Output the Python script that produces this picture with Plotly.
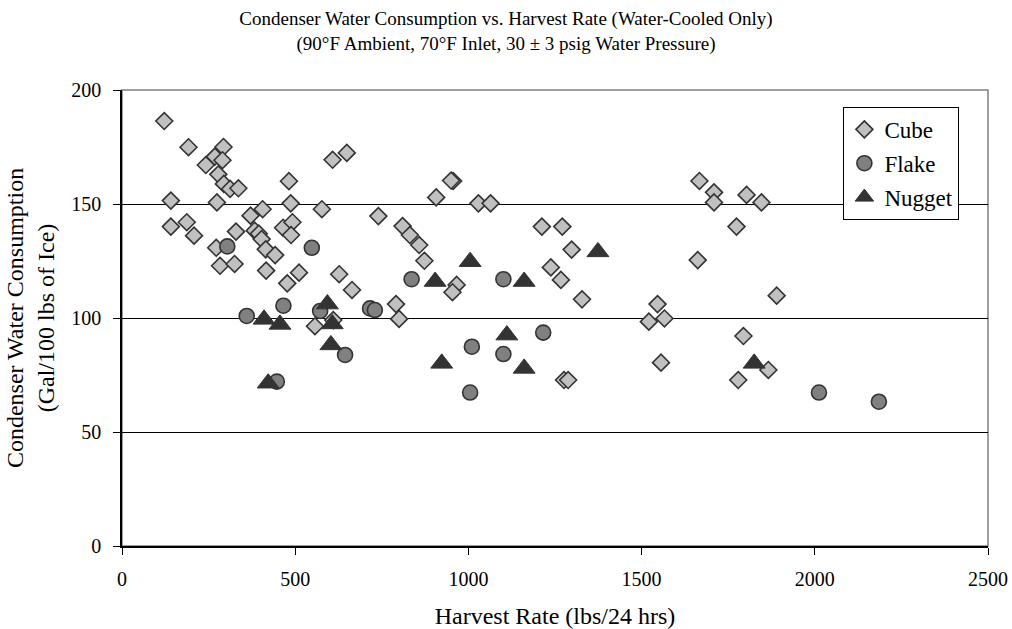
import plotly.graph_objects as go

# Harvest rate (lbs/24 hrs) and condenser water use (gal/100 lbs ice)
cube_x = [122, 192, 293, 268, 290, 242, 278, 294, 312, 336, 482, 608, 649,
          141, 274, 487, 577, 406, 371, 141, 187, 208, 329, 383, 395, 403,
          465, 492, 488, 415, 442, 272, 283, 325, 416, 511, 477, 627, 664,
          557, 610,
          956, 950, 907, 1029, 1064, 740, 810, 831, 858, 873, 1212, 1271, 1298,
          1238, 1267, 1328, 966, 954, 791, 800, 1276, 1288,
          1667, 1709, 1709, 1803, 1846, 1774, 1662, 1890, 1546, 1521, 1566,
          1794, 1556, 1866, 1779]
cube_y = [186.4, 174.9, 175.0, 170.8, 169.2, 167.1, 163.0, 158.8, 156.6, 156.9, 160.0, 169.4, 172.4,
          151.5, 150.7, 150.3, 147.7, 147.7, 144.9, 140.1, 142.0, 136.1, 137.9, 138.3, 137.0, 134.6,
          139.6, 142.0, 136.4, 130.1, 127.6, 130.8, 122.9, 123.7, 120.8, 119.9, 115.2, 119.2, 112.3,
          96.4, 99.1,
          160.1, 160.3, 152.9, 150.3, 150.3, 144.7, 140.3, 136.4, 132.0, 125.1, 140.1, 140.1, 130.0,
          122.2, 116.7, 108.2, 114.5, 111.3, 106.1, 99.6, 72.8, 72.8,
          160.1, 155.1, 150.7, 154.0, 150.7, 140.1, 125.4, 109.8, 106.1, 98.4, 99.8,
          92.1, 80.4, 77.2, 72.8]

flake_x = [304, 548, 360, 466, 572, 716, 644, 447,
           836, 1101, 730, 1216, 1010, 1101, 1005, 2012, 2185]
flake_y = [131.4, 130.8, 100.9, 105.4, 103.1, 104.2, 83.8, 72.1,
           117.0, 117.0, 103.5, 93.6, 87.4, 84.2, 67.3, 67.3, 63.3]

nugget_x = [410, 456, 593, 607, 603, 422, 1005, 904, 1161, 1374, 1111, 923, 1161, 1825]
nugget_y = [99.4, 97.2, 106.1, 97.4, 88.2, 71.4, 124.7, 116.0, 116.0, 129.0, 92.5, 80.1, 77.9, 80.1]

x_ticks = [0, 500, 1000, 1500, 2000, 2500]
y_ticks = [0, 50, 100, 150, 200]

serif = "Liberation Serif, Times New Roman, serif"
edge = "#333333"

fig = go.Figure()
fig.add_trace(go.Scatter(x=cube_x, y=cube_y, mode="markers", name="Cube", legendgroup="cube",
                         marker=dict(symbol="diamond", size=13, color="#c0c0c0",
                                     line=dict(color=edge, width=1.6))))
fig.add_trace(go.Scatter(x=flake_x, y=flake_y, mode="markers", name="Flake", legendgroup="flake",
                         marker=dict(symbol="circle", size=15, color="#808080",
                                     line=dict(color=edge, width=1.6))))
fig.add_trace(go.Scatter(x=nugget_x, y=nugget_y, mode="markers", name="Nugget", legendgroup="nugget",
                         marker=dict(symbol="triangle-up", size=19, color="#333333",
                                     line=dict(color="#333333", width=1))))

# gray frame on top and right, like the original
fig.add_shape(type="rect", xref="paper", yref="paper", x0=0, x1=1, y0=0, y1=1,
              line=dict(color="#808080", width=1.5), layer="below")

fig.update_layout(
    width=1012, height=629,
    margin=dict(l=122, r=24, t=90, b=83),
    paper_bgcolor="white", plot_bgcolor="white",
    font=dict(family=serif, size=20, color="black"),
    title=dict(text="Condenser Water Consumption vs. Harvest Rate (Water-Cooled Only)<br>"
                    "(90°F Ambient, 70°F Inlet, 30 ± 3 psig Water Pressure)",
               x=0.5, xanchor="center", yref="container", y=0.9603, yanchor="middle",
               font=dict(family=serif, size=19)),
    xaxis=dict(range=[0, 2500], tickvals=x_ticks, showgrid=False, zeroline=False,
               showline=True, linecolor="black", linewidth=1.5, automargin=False,
               ticks="outside", ticklen=7, tickcolor="black", ticklabelstandoff=7,
               title=dict(text="Harvest Rate (lbs/24 hrs)", standoff=23)),
    yaxis=dict(range=[0, 200], tickvals=y_ticks, showgrid=True, gridcolor="black",
               gridwidth=1.2, zeroline=False, automargin=False,
               showline=True, linecolor="black", linewidth=1.5,
               ticks="outside", ticklen=7, tickcolor="black", ticklabelstandoff=8,
               title=dict(text="Condenser Water Consumption<br>(Gal/100 lbs of Ice)", standoff=10)),
    legend=dict(x=0.833, y=0.963, xanchor="left", yanchor="top",
                bgcolor="white", bordercolor="black", borderwidth=1,
                font=dict(family=serif, size=23), itemwidth=30,
                tracegroupgap=1),
    showlegend=True,
)

# drop the default page margin so the 1012x629 figure fills the window exactly
fig.write_html("out.html", config={"displayModeBar": False},
               post_script="document.body.style.margin='0';document.body.style.overflow='hidden';")
